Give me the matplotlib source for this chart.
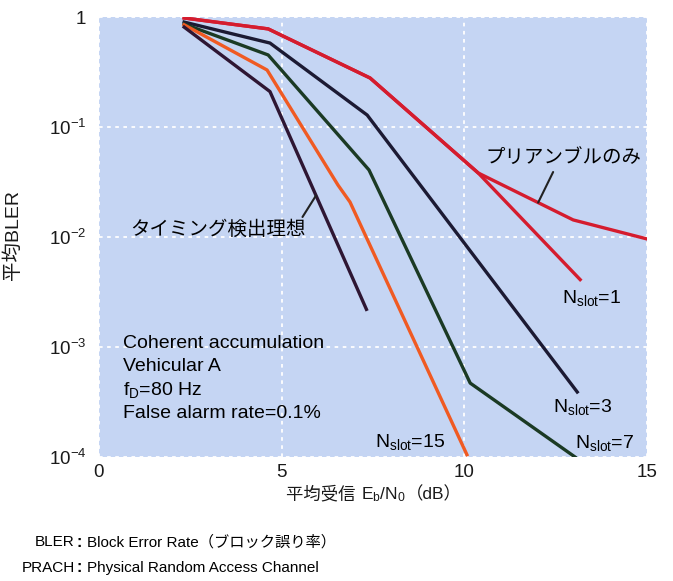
import numpy as np
import matplotlib
matplotlib.use('Agg')
import matplotlib.pyplot as plt
from matplotlib.ticker import NullLocator
from matplotlib.offsetbox import TextArea, HPacker, AnnotationBbox

# フォント設定
LATIN = ['Liberation Sans', 'Noto Sans CJK JP', 'DejaVu Sans']
plt.rcParams['font.family'] = LATIN
plt.rcParams['mathtext.fontset'] = 'custom'
plt.rcParams['mathtext.rm'] = 'Liberation Sans'
plt.rcParams['mathtext.it'] = 'Liberation Sans:italic'
plt.rcParams['mathtext.bf'] = 'Liberation Sans:bold'

# データ (平均受信 Eb/N0 [dB], 平均BLER)
snr_pre = [2.33, 4.63, 7.42, 10.38, 12.98, 15.0]
bler_pre = [0.98, 0.78, 0.279, 0.0382, 0.0143, 0.0096]

snr_n1 = [2.33, 4.63, 7.42, 10.38, 13.17]
bler_n1 = [0.98, 0.78, 0.279, 0.0382, 0.0041]

snr_n3 = [2.33, 4.68, 7.34, 13.09]
bler_n3 = [0.90, 0.58, 0.1285, 3.9e-4]

snr_n7 = [2.33, 4.63, 7.39, 10.16, 13.03]
bler_n7 = [0.863, 0.452, 0.0407, 4.7e-4, 1.0e-4]

snr_n15 = [2.33, 4.60, 6.54, 6.87, 10.07]
bler_n15 = [0.85, 0.33, 0.0297, 0.0208, 1.05e-4]

snr_ideal = [2.33, 4.68, 7.32]
bler_ideal = [0.81, 0.21, 0.0022]

yticks = [1e-4, 1e-3, 1e-2, 1e-1, 1]
ytick_labels = [r'$\mathregular{10^{-4}}$', r'$\mathregular{10^{-3}}$',
                r'$\mathregular{10^{-2}}$', r'$\mathregular{10^{-1}}$', '1']
xticks = [0, 5, 10, 15]

fig = plt.figure(figsize=(6.73, 5.81), dpi=100)
ax = fig.add_axes([0.1471, 0.2134, 0.8143, 0.7573])
ax.set_facecolor('#c5d5f3')

lw = 2.4
ax.plot(snr_pre, bler_pre, color='#d51c2e', lw=lw)
ax.plot(snr_n1, bler_n1, color='#d51c2e', lw=lw)
ax.plot(snr_n3, bler_n3, color='#1c1a33', lw=lw)
ax.plot(snr_n7, bler_n7, color='#1b3a24', lw=lw)
ax.plot(snr_n15, bler_n15, color='#f05a22', lw=lw)
ax.plot(snr_ideal, bler_ideal, color='#2e1633', lw=lw)

ax.set_yscale('log')
ax.set_xlim(0, 15)
ax.set_ylim(1e-4, 1)
ax.set_yticks(yticks)
ax.set_yticklabels(ytick_labels)
ax.yaxis.set_minor_locator(NullLocator())
ax.set_xticks(xticks)
ax.tick_params(length=0, labelsize=13.5, labelcolor='#1a1a1a')
ax.tick_params(axis='y', pad=9)
ax.tick_params(axis='x', pad=5)
for s in ax.spines.values():
    s.set_visible(False)
ax.grid(True, color='white', linestyle=(0, (2, 2.5)), linewidth=1.3)
ax.set_axisbelow(True)

ax.set_ylabel('平均BLER', fontsize=14, color='#1a1a1a')
ax.yaxis.set_label_coords(-0.1405, 0.5045)

# 横軸ラベル (日本語と添字を並べる)
lab_size = 12.5
xlabel_box = HPacker(children=[
    TextArea('平均受信 ', textprops=dict(family=LATIN, size=lab_size, color='#1a1a1a')),
    TextArea(r'E$_\mathregular{b}$/N$_\mathregular{0}$', textprops=dict(size=lab_size, color='#1a1a1a')),
    TextArea('（dB）', textprops=dict(family=LATIN, size=lab_size, color='#1a1a1a')),
], align='baseline', pad=0, sep=0)
fig.add_artist(AnnotationBbox(xlabel_box, (0.5557, 0.148), xycoords='figure fraction',
                              frameon=False, box_alignment=(0.5, 0.5), pad=0))

# 曲線の注記
ax.text(3.26, 10 ** -1.936, 'タイミング検出理想', fontsize=14, ha='center', va='center')
x_pt = 5.94
ax.annotate('', xy=(x_pt, 10 ** np.interp(x_pt, snr_ideal, np.log10(bler_ideal))),
            xytext=(5.57, 10 ** -1.818),
            arrowprops=dict(arrowstyle='-', color='#222222', lw=1.5, shrinkA=0, shrinkB=0))

ax.text(12.70, 10 ** -1.282, 'プリアンブルのみ', fontsize=14, ha='center', va='center')
x_pt = 12.02
ax.annotate('', xy=(x_pt, 10 ** np.interp(x_pt, snr_pre, np.log10(bler_pre))),
            xytext=(12.43, 10 ** -1.409),
            arrowprops=dict(arrowstyle='-', color='#222222', lw=1.5, shrinkA=0, shrinkB=0))

nslot_size = 14
ax.text(12.67, 10 ** -2.555, r'N$_\mathregular{slot}$=1', fontsize=nslot_size, va='center')
ax.text(12.43, 10 ** -3.545, r'N$_\mathregular{slot}$=3', fontsize=nslot_size, va='center')
ax.text(13.03, 10 ** -3.873, r'N$_\mathregular{slot}$=7', fontsize=nslot_size, va='center')
ax.text(7.55, 10 ** -3.864, r'N$_\mathregular{slot}$=15', fontsize=nslot_size, va='center')

# シミュレーション条件
cond_lines = ['Coherent accumulation', 'Vehicular A',
              r'f$_\mathregular{D}$=80 Hz', 'False alarm rate=0.1%']
cond_y = [0.259, 0.205, 0.152, 0.100]
for txt, yy in zip(cond_lines, cond_y):
    ax.text(0.0438, yy, txt, transform=ax.transAxes, fontsize=14, va='center')

# 略語の説明
notes = [('BLER', 'Block Error Rate（ブロック誤り率）', 0.0671),
         ('PRACH', 'Physical Random Access Channel', 0.0224)]
for abbr, desc, yy in notes:
    fig.text(0.1114, yy, abbr, fontsize=11, ha='right', va='center')
    fig.text(0.1174, yy, ':', fontsize=11.5, fontweight='bold', ha='center', va='center')
    fig.text(0.1293, yy, desc, fontsize=11, ha='left', va='center')

fig.savefig('out.png', dpi=100)
